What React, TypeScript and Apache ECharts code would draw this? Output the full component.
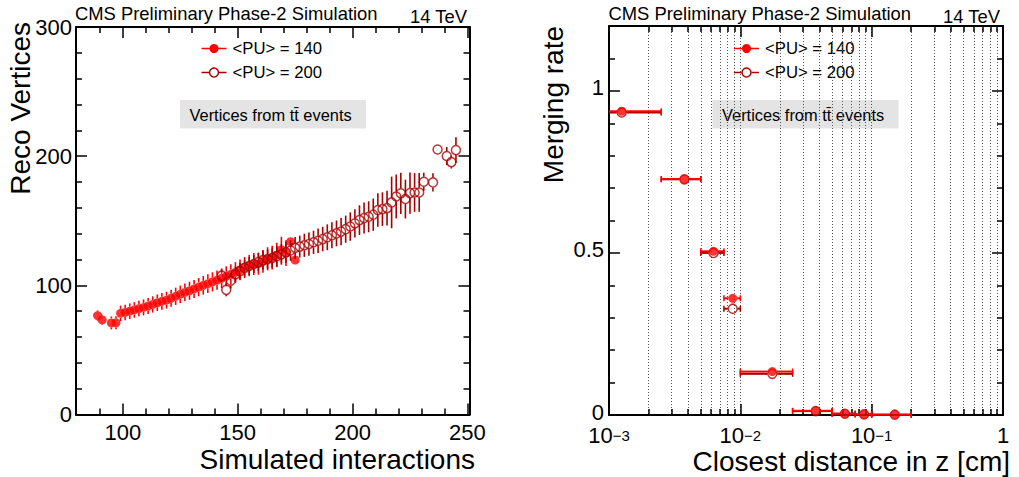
import { useEffect, useRef } from "react";
import * as echarts from "echarts";

const FONT = "'Liberation Sans', Arial, Helvetica, sans-serif";
const RED = "#ff0000";
const DARK = "#a80000";

// ---------------- Left panel: reco vertices vs simulated interactions ----------------
const pu140X = [89, 91, 95, 97, 99, 101, 103, 105, 107, 109, 111, 113, 115, 117, 119, 121, 123, 125, 127, 129, 131, 133, 135, 137, 139, 141, 143, 145, 147, 149, 151, 153, 155, 157, 159, 161, 163, 165, 167, 169, 171, 173, 175];
const pu140Y = [76.6, 73.2, 70.9, 71.0, 78.3, 79.0, 80.0, 81.0, 82.0, 82.9, 84.0, 85.2, 86.5, 87.6, 88.5, 90.0, 91.5, 93.0, 94.5, 95.8, 97.2, 98.6, 100.0, 101.3, 102.7, 104.0, 105.5, 107.0, 108.5, 110.0, 112.0, 113.8, 115.3, 116.5, 116.8, 118.5, 120.5, 121.5, 123.5, 127.6, 125.0, 133.8, 119.6];
const pu140Err = [4.0, 4.0, 5.0, 5.0, 6.0, 6.0, 6.0, 6.0, 6.0, 6.2, 6.2, 6.3, 6.4, 6.5, 6.5, 6.6, 6.7, 6.8, 6.9, 7.0, 7.0, 7.1, 7.2, 7.3, 7.4, 7.5, 7.6, 7.7, 7.8, 8.0, 8.0, 8.2, 8.3, 8.5, 8.6, 8.8, 9.0, 9.2, 9.5, 10.0, 10.0, 0, 0];

const pu200X = [143, 145, 147, 149, 151, 153, 155, 157, 159, 161, 163, 165, 167, 169, 171, 173, 175, 177, 179, 181, 183, 185, 187, 189, 191, 193, 195, 197, 199, 201, 203, 205, 207, 209, 211, 213, 215, 217, 219, 221, 223, 225, 227, 229, 231, 235, 237, 241, 243, 245];
const pu200Y = [107.5, 96.5, 103.5, 108.5, 111.0, 113.5, 115.0, 116.5, 118.0, 119.5, 120.3, 121.2, 122.5, 124.0, 125.5, 127.0, 129.0, 130.0, 131.0, 132.0, 133.3, 134.5, 135.8, 137.2, 138.8, 140.2, 141.6, 143.5, 145.5, 148.0, 150.5, 152.1, 153.1, 154.7, 158.3, 159.0, 159.8, 164.2, 168.8, 171.2, 166.8, 171.4, 171.9, 171.9, 180.2, 179.7, 205.2, 200.1, 195.4, 204.7];
const pu200Err = [5, 5, 6, 6, 6.5, 6.5, 7, 7, 7, 7.5, 7.5, 7.5, 8, 8, 8, 8, 8.5, 8.5, 9, 9, 9, 9.5, 9.5, 10, 10, 10, 10.5, 10.5, 11, 11, 11.5, 12, 12, 12.5, 13, 13, 13.5, 20, 17, 16, 15, 16, 15, 15, 7, 7, 0, 7, 5, 10];

const leftXTicks = [100, 150, 200, 250];
const leftXMinor = [90, 110, 120, 130, 140, 160, 170, 180, 190, 210, 220, 230, 240];
const leftYTicks = [0, 100, 200, 300];
const leftYMinor = [20, 40, 60, 80, 120, 140, 160, 180, 220, 240, 260, 280];

// ---------------- Right panel: merging rate vs closest distance ----------------
const binLow = [0, 0.0025, 0.005, 0.0075, 0.01, 0.025, 0.05, 0.075, 0.1];
const binHigh = [0.0025, 0.005, 0.0075, 0.01, 0.025, 0.05, 0.075, 0.1, 0.2];
const rate140 = [0.937, 0.728, 0.505, 0.36, 0.134, 0.013, 0.004, 0.002, 0.001];
const rate200 = [0.933, 0.727, 0.5, 0.328, 0.127, 0.012, 0.004, 0.002, 0.001];

const rightXTicks = [0.001, 0.01, 0.1, 1];
const rightXMinor = [0.002, 0.003, 0.004, 0.005, 0.006, 0.007, 0.008, 0.009, 0.02, 0.03, 0.04, 0.05, 0.06, 0.07, 0.08, 0.09, 0.2, 0.3, 0.4, 0.5, 0.6, 0.7, 0.8, 0.9];
const rightYTicks = [0, 0.5, 1];
const rightYMinor = [0.1, 0.2, 0.3, 0.4, 0.6, 0.7, 0.8, 0.9, 1.1];

const LEFT_GRID = { left: 76, top: 27, width: 393.5, height: 387.5 };
const RIGHT_GRID = { left: 609, top: 26, width: 394, height: 389 };
const XMIN_R = 0.001;

function axis(
  grid: number,
  position: string,
  type: string,
  min: number,
  max: number,
  ticks: number[],
  len: number,
  extra: any = {}
) {
  return {
    type,
    gridIndex: grid,
    position,
    min,
    max,
    ...(type === "log" ? { logBase: 10 } : {}),
    axisLine: { show: !!extra.line, onZero: false, lineStyle: { color: "#000", width: 2 } },
    axisTick: { show: true, inside: true, length: len, customValues: ticks, lineStyle: { color: "#000", width: 1.5 } },
    axisLabel: extra.label ? extra.label : { show: false },
    splitLine: extra.split
      ? { show: true, lineStyle: { color: "#555", width: 1, type: [1, 2] } }
      : { show: false },
  };
}

const vErr = (color: string, gap: number) => (_p: any, api: any) => {
  const x = api.value(0), y = api.value(1), e = api.value(2);
  const c = api.coord([x, y]);
  const hi = api.coord([x, y + e]);
  const lo = api.coord([x, y - e]);
  const st = { stroke: color, lineWidth: 1.6 };
  const children: any[] = [];
  if (c[1] - gap > hi[1]) children.push({ type: "line", shape: { x1: c[0], y1: hi[1], x2: c[0], y2: c[1] - gap }, style: st });
  if (lo[1] > c[1] + gap) children.push({ type: "line", shape: { x1: c[0], y1: c[1] + gap, x2: c[0], y2: lo[1] }, style: st });
  return { type: "group", children };
};

const hErr = (color: string, gap: number) => (_p: any, api: any) => {
  const x = api.value(0), y = api.value(1), lo = api.value(2), hi = api.value(3);
  const c = api.coord([x, y]);
  const l = api.coord([Math.max(lo, XMIN_R), y]);
  const h = api.coord([hi, y]);
  const st = { stroke: color, lineWidth: 2 };
  const children: any[] = [];
  if (c[0] - gap > l[0]) children.push({ type: "line", shape: { x1: l[0], y1: c[1], x2: c[0] - gap, y2: c[1] }, style: st });
  if (h[0] > c[0] + gap) children.push({ type: "line", shape: { x1: c[0] + gap, y1: c[1], x2: h[0], y2: c[1] }, style: st });
  if (lo > XMIN_R) children.push({ type: "line", shape: { x1: l[0], y1: c[1] - 3, x2: l[0], y2: c[1] + 3 }, style: { stroke: color, lineWidth: 1.5 } });
  children.push({ type: "line", shape: { x1: h[0], y1: c[1] - 3, x2: h[0], y2: c[1] + 3 }, style: { stroke: color, lineWidth: 1.5 } });
  return { type: "group", children };
};

function legendGraphics(x0: number) {
  const lx1 = x0, lx2 = x0 + 25, mx = x0 + 12.5, tx = x0 + 31;
  const y1 = 48.5, y2 = 72.5;
  const font = `16.7px ${FONT}`;
  return [
    { type: "line", shape: { x1: lx1, y1, x2: lx2, y2: y1 }, style: { stroke: RED, lineWidth: 1.5 } },
    { type: "circle", shape: { cx: mx, cy: y1, r: 4.5 }, style: { fill: RED } },
    { type: "text", x: tx, y: y1, style: { text: "<PU> = 140", font, fill: "#000", verticalAlign: "middle" } },
    { type: "line", shape: { x1: lx1, y1: y2, x2: mx - 5, y2 }, style: { stroke: DARK, lineWidth: 1.5 } },
    { type: "line", shape: { x1: mx + 5, y1: y2, x2: lx2, y2 }, style: { stroke: DARK, lineWidth: 1.5 } },
    { type: "circle", shape: { cx: mx, cy: y2, r: 4.5 }, style: { fill: "none", stroke: DARK, lineWidth: 1.5 } },
    { type: "text", x: tx, y: y2, style: { text: "<PU> = 200", font, fill: "#000", verticalAlign: "middle" } },
  ];
}

function boxGraphics(x0: number) {
  return [
    { type: "rect", shape: { x: x0, y: 100, width: 186, height: 28.5 }, style: { fill: "#e4e4e4" } },
    { type: "text", x: x0 + 9.5, y: 114.5, style: { text: "Vertices from tt\u0304 events", font: `16.4px ${FONT}`, fill: "#000", verticalAlign: "middle" } },
  ];
}

function headerGraphics(xl: number, xr: number) {
  const font = `18.4px ${FONT}`;
  return [
    { type: "text", x: xl, y: 13, style: { text: "CMS Preliminary Phase-2 Simulation", font, fill: "#000", verticalAlign: "middle" } },
    { type: "text", x: xr, y: 16, style: { text: "14 TeV", font, fill: "#000", align: "right", verticalAlign: "middle" } },
  ];
}

export default function App() {
  const ref = useRef<HTMLDivElement>(null);
  useEffect(() => {
    if (!ref.current) return;
    const chart = echarts.init(ref.current, undefined, { renderer: "svg" });
    const labelStyle = { color: "#000", fontFamily: FONT, fontSize: 22 };

    const logLabel = (v: number) => {
      const e = Math.round(Math.log10(v));
      if (e === 0) return "{b|1}";
      return `{b|10}{s|${e < 0 ? "\u2212" : ""}${Math.abs(e)}}`;
    };

    const option: any = {
      animation: false,
      textStyle: { fontFamily: FONT },
      grid: [
        { ...LEFT_GRID, containLabel: false },
        { ...RIGHT_GRID, containLabel: false },
      ],
      xAxis: [
        axis(0, "bottom", "value", 79.6, 250.9, leftXTicks, 11, {
          line: true,
          label: { show: true, customValues: leftXTicks, margin: 7, ...labelStyle },
        }),
        axis(0, "bottom", "value", 79.6, 250.9, leftXMinor, 6),
        axis(0, "top", "value", 79.6, 250.9, leftXTicks, 11, { line: true }),
        axis(0, "top", "value", 79.6, 250.9, leftXMinor, 6),
        axis(1, "bottom", "log", 0.001, 1, rightXTicks, 11, {
          line: true,
          split: true,
          label: {
            show: true,
            customValues: rightXTicks,
            margin: 13,
            formatter: logLabel,
            rich: {
              b: { fontSize: 22, fontFamily: FONT, color: "#000", lineHeight: 18, verticalAlign: "bottom" },
              s: { fontSize: 15, fontFamily: FONT, color: "#000", lineHeight: 10, verticalAlign: "top" },
            },
          },
        }),
        axis(1, "bottom", "log", 0.001, 1, rightXMinor, 6, { split: true }),
        axis(1, "top", "log", 0.001, 1, rightXTicks, 11, { line: true }),
        axis(1, "top", "log", 0.001, 1, rightXMinor, 6),
      ],
      yAxis: [
        axis(0, "left", "value", 0, 300, leftYTicks, 11, {
          line: true,
          label: { show: true, customValues: leftYTicks, margin: 4, ...labelStyle },
        }),
        axis(0, "left", "value", 0, 300, leftYMinor, 6),
        axis(0, "right", "value", 0, 300, leftYTicks, 11, { line: true }),
        axis(0, "right", "value", 0, 300, leftYMinor, 6),
        axis(1, "left", "value", 0, 1.2, rightYTicks, 11, {
          line: true,
          label: {
            show: true,
            customValues: rightYTicks,
            margin: 5,
            formatter: (v: number) => `{v|${v === 0 ? "0" : v === 1 ? "1" : String(v)}}`,
            rich: {
              v: { fontSize: 22, fontFamily: FONT, color: "#000", lineHeight: 22, padding: [0, 0, 6, 0] },
            },
          },
        }),
        axis(1, "left", "value", 0, 1.2, rightYMinor, 6),
        axis(1, "right", "value", 0, 1.2, rightYTicks, 11, { line: true }),
        axis(1, "right", "value", 0, 1.2, rightYMinor, 6),
      ],
      series: [
        // left panel
        {
          type: "custom",
          xAxisIndex: 0,
          yAxisIndex: 0,
          renderItem: vErr(RED, 4.5),
          data: pu140X.map((x, i) => [x, pu140Y[i], pu140Err[i]]),
          encode: { x: 0, y: 1 },
          silent: true,
          z: 3,
        },
        {
          type: "scatter",
          xAxisIndex: 0,
          yAxisIndex: 0,
          symbol: "circle",
          symbolSize: 9,
          itemStyle: { color: RED },
          data: pu140X.map((x, i) => [x, pu140Y[i]]),
          silent: true,
          z: 4,
        },
        {
          type: "custom",
          xAxisIndex: 0,
          yAxisIndex: 0,
          renderItem: vErr(DARK, 5),
          data: pu200X.map((x, i) => [x, pu200Y[i], pu200Err[i]]),
          encode: { x: 0, y: 1 },
          silent: true,
          z: 5,
        },
        {
          type: "scatter",
          xAxisIndex: 0,
          yAxisIndex: 0,
          symbol: "circle",
          symbolSize: 9,
          itemStyle: { color: "rgba(0,0,0,0)", borderColor: DARK, borderWidth: 1.5 },
          data: pu200X.map((x, i) => [x, pu200Y[i]]),
          silent: true,
          z: 6,
        },
        // right panel
        {
          type: "custom",
          xAxisIndex: 4,
          yAxisIndex: 4,
          renderItem: hErr(DARK, 5),
          data: binLow.map((lo, i) => [(lo + binHigh[i]) / 2, rate200[i], lo, binHigh[i]]),
          encode: { x: 0, y: 1 },
          silent: true,
          z: 3,
        },
        {
          type: "scatter",
          xAxisIndex: 4,
          yAxisIndex: 4,
          symbol: "circle",
          symbolSize: 9,
          itemStyle: { color: "rgba(0,0,0,0)", borderColor: DARK, borderWidth: 1.5 },
          data: binLow.map((lo, i) => [(lo + binHigh[i]) / 2, rate200[i]]),
          silent: true,
          z: 4,
        },
        {
          type: "custom",
          xAxisIndex: 4,
          yAxisIndex: 4,
          renderItem: hErr(RED, 4.5),
          data: binLow.map((lo, i) => [(lo + binHigh[i]) / 2, rate140[i], lo, binHigh[i]]),
          encode: { x: 0, y: 1 },
          silent: true,
          z: 5,
        },
        {
          type: "scatter",
          xAxisIndex: 4,
          yAxisIndex: 4,
          symbol: "circle",
          symbolSize: 9,
          itemStyle: { color: RED },
          data: binLow.map((lo, i) => [(lo + binHigh[i]) / 2, rate140[i]]),
          silent: true,
          z: 6,
        },
      ],
      graphic: [
        ...headerGraphics(75, 467),
        ...headerGraphics(608.5, 1000),
        ...legendGraphics(201.5),
        ...legendGraphics(734),
        ...boxGraphics(180),
        ...boxGraphics(712.5),
        { type: "text", x: 20, y: 22, rotation: Math.PI / 2, style: { text: "Reco Vertices", font: `28px ${FONT}`, fill: "#000", align: "right", verticalAlign: "middle" } },
        { type: "text", x: 553, y: 26, rotation: Math.PI / 2, style: { text: "Merging rate", font: `28px ${FONT}`, fill: "#000", align: "right", verticalAlign: "middle" } },
        { type: "text", x: 475, y: 459, style: { text: "Simulated interactions", font: `28px ${FONT}`, fill: "#000", align: "right", verticalAlign: "middle" } },
        { type: "text", x: 1010, y: 461, style: { text: "Closest distance in z [cm]", font: `28px ${FONT}`, fill: "#000", align: "right", verticalAlign: "middle" } },
      ],
    };
    chart.setOption(option);
    return () => chart.dispose();
  }, []);
  return (
    <div
      ref={ref}
      style={{ position: "fixed", left: 0, top: 0, width: 1019, height: 477, background: "#fff" }}
    />
  );
}
